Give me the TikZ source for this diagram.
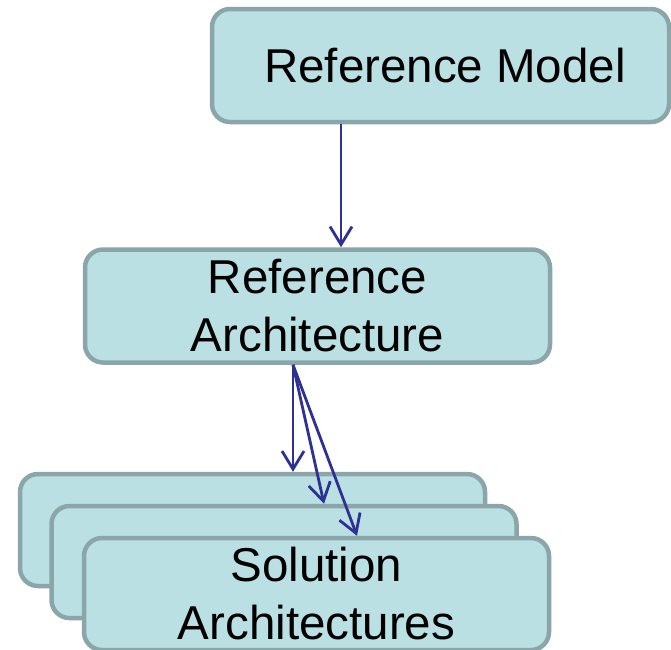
\documentclass[tikz,border=0pt]{standalone}
\usepackage{fontspec}
\setmainfont{Liberation Sans}
\usetikzlibrary{arrows.meta}
\definecolor{boxfill}{HTML}{BAE0E3}
\definecolor{boxline}{HTML}{8BA6A8}
\definecolor{arrcol}{HTML}{2E3094}
\tikzset{
  box/.style={draw=boxline, fill=boxfill, line width=4.5pt, rounded corners=18pt,
    rectangle, inner sep=0pt, align=center,
    font=\fontsize{47.5}{58}\selectfont},
  boxtext/.style={font=\fontsize{47.5}{58}\selectfont, align=center, inner sep=0pt},
  arr/.style={draw=arrcol, line width=2.8pt, -{Straight Barb[length=18pt,width=22pt,line width=2.8pt]}}
}
\begin{document}
\begin{tikzpicture}[x=1pt,y=-1pt]
\useasboundingbox (0,0) rectangle (671,649);
\node[box, minimum width=457pt, minimum height=113pt] (RM) at (440.5,65.5) {};
\node[boxtext] (RMT) at (445,65.5) {Reference Model};
\node[box, minimum width=465pt, minimum height=113pt] (RA) at (317.5,306) {Reference\\Architecture};
\node[box, minimum width=465pt, minimum height=112pt] (S1) at (252.5,530) {};
\node[box, minimum width=465pt, minimum height=112pt] (S2) at (284,562) {};
\node[box, minimum width=465pt, minimum height=112pt] (S3) at (316.5,594) {};
\node[boxtext] (ST) at (316.5,594) {Solution\\Architectures};
\draw[arr] (RM.south -| 341,0) -- (RA.north -| 341,0);
\draw[arr] (RA.south -| 293,0) -- (S1.north -| 293,0);
\draw[arr] (RA.south -| 293,0) -- (S2.north -| 324,0);
\draw[arr] (RA.south -| 293,0) -- (S3.north -| 357,0);
\end{tikzpicture}
\end{document}
